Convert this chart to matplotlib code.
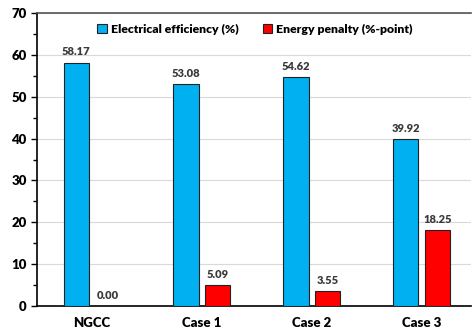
import numpy as np
import matplotlib
matplotlib.use("Agg")
import matplotlib.pyplot as plt
from matplotlib.ticker import MultipleLocator

cases = ["NGCC", "Case 1", "Case 2", "Case 3"]
efficiency = [58.17, 53.08, 54.62, 39.92]
penalty = [0.00, 5.09, 3.55, 18.25]

plt.rcParams['font.family'] = ['Lato', 'DejaVu Sans']

fig = plt.figure(figsize=(4.72, 3.32), dpi=100)
ax = fig.add_axes([37/472, 26/332, 1 - 37/472 - 1/472, (306-13)/332])

x = np.arange(len(cases))
w = 0.23
off = 0.143
b1 = ax.bar(x - off, efficiency, w, color='#00B0F0', edgecolor='#222222', linewidth=0.8,
            label='Electrical efficiency (%)', zorder=3)
b2 = ax.bar(x + off, penalty, w, color='#FF0000', edgecolor='#222222', linewidth=0.8,
            label='Energy penalty (%-point)', zorder=3)

# value labels above bars
for bars in (b1, b2):
    for r in bars:
        ax.text(r.get_x() + r.get_width()/2, r.get_height() + 1.2, "%.2f" % r.get_height(),
                ha='center', va='bottom', fontsize=8, fontweight='heavy', color='#3a3a3a')

ax.set_xlim(-0.5, 3.45)
ax.set_ylim(0, 70)
ax.yaxis.set_major_locator(MultipleLocator(10))
ax.yaxis.set_minor_locator(MultipleLocator(5))
ax.grid(axis='y', color='#d9d9d9', linewidth=0.8, zorder=0)
ax.set_xticks(x)
ax.set_xticklabels(cases, fontsize=9.5, fontweight='heavy')
for lab in ax.get_yticklabels():
    lab.set_fontweight('heavy')
ax.tick_params(axis='y', labelsize=9.5, length=4, width=1, direction='out')
ax.tick_params(axis='y', which='minor', length=3, width=1)
ax.tick_params(axis='x', length=0, pad=8)

ax.spines['right'].set_visible(False)
ax.spines['top'].set_color('#555555')
ax.spines['top'].set_linewidth(1.2)
ax.spines['left'].set_linewidth(1.2)
ax.spines['bottom'].set_linewidth(1.2)

ax.legend(loc='upper center', bbox_to_anchor=(0.502, 1.0), ncol=2, frameon=False,
          handlelength=0.8, handleheight=0.8, handletextpad=0.3, columnspacing=2.0,
          prop={'weight': 'heavy', 'size': 8.8})

fig.savefig("out.png", dpi=100)
